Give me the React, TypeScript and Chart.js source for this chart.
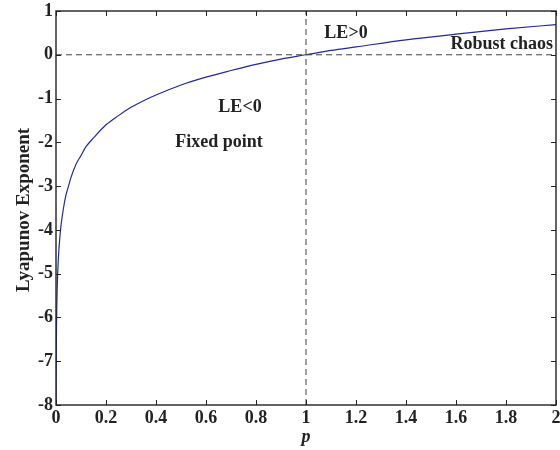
import React, { useEffect, useRef } from "react";
import { Chart, registerables } from "chart.js";

Chart.register(...registerables);

// Lyapunov exponent curve, sampled values of p and LE
const pValues = [0, 0.001, 0.002, 0.005, 0.01, 0.015, 0.02, 0.03, 0.04, 0.05, 0.06, 0.08, 0.1, 0.12, 0.15, 0.2, 0.25, 0.3, 0.35, 0.4, 0.5, 0.6, 0.7, 0.8, 0.9, 1.0, 1.1, 1.2, 1.4, 1.6, 1.8, 2.0];
const leValues = [-8, -6.9, -6.2, -5.3, -4.6, -4.2, -3.9, -3.5, -3.2, -3.0, -2.8, -2.5, -2.3, -2.1, -1.9, -1.6, -1.39, -1.2, -1.05, -0.92, -0.69, -0.51, -0.36, -0.22, -0.1, 0, 0.1, 0.18, 0.34, 0.47, 0.59, 0.69];

const xTicks = [0, 0.2, 0.4, 0.6, 0.8, 1, 1.2, 1.4, 1.6, 1.8, 2];
const yTicks = [1, 0, -1, -2, -3, -4, -5, -6, -7, -8];

const xTitle = "p";
const yTitle = "Lyapunov Exponent";

const FONT = '"Liberation Serif", "Times New Roman", serif';

const decorPlugin = {
  id: "decor",
  afterDatasetsDraw(chart: any) {
    const { ctx, chartArea: a, scales } = chart;
    const xs = scales.x;
    const ys = scales.y;
    ctx.save();
    // frame
    ctx.strokeStyle = "#222";
    ctx.lineWidth = 1.4;
    ctx.strokeRect(a.left, a.top, a.right - a.left, a.bottom - a.top);
    // inward ticks
    ctx.lineWidth = 1;
    const tl = 5;
    xTicks.forEach((v) => {
      const px = Math.round(xs.getPixelForValue(v)) + 0.5;
      ctx.beginPath();
      ctx.moveTo(px, a.bottom);
      ctx.lineTo(px, a.bottom - tl);
      ctx.moveTo(px, a.top);
      ctx.lineTo(px, a.top + tl);
      ctx.stroke();
    });
    yTicks.forEach((v) => {
      const py = Math.round(ys.getPixelForValue(v)) + 0.5;
      ctx.beginPath();
      ctx.moveTo(a.left, py);
      ctx.lineTo(a.left + tl, py);
      ctx.moveTo(a.right, py);
      ctx.lineTo(a.right - tl, py);
      ctx.stroke();
    });
    // tick labels
    ctx.fillStyle = "#222";
    ctx.font = `bold 18px ${FONT}`;
    ctx.textAlign = "center";
    ctx.textBaseline = "top";
    xTicks.forEach((v) => {
      ctx.fillText(String(v), xs.getPixelForValue(v), a.bottom + 4);
    });
    ctx.textAlign = "right";
    ctx.textBaseline = "middle";
    yTicks.forEach((v) => {
      ctx.fillText(String(v), a.left - 3, ys.getPixelForValue(v));
    });
    // axis titles
    ctx.textAlign = "center";
    ctx.textBaseline = "middle";
    ctx.font = `italic bold 18px ${FONT}`;
    ctx.fillText(xTitle, xs.getPixelForValue(1), a.bottom + 32);
    ctx.save();
    ctx.translate(24, (a.top + a.bottom) / 2 + 2);
    ctx.rotate(-Math.PI / 2);
    ctx.font = `bold 19px ${FONT}`;
    ctx.fillText(yTitle, 0, 0);
    ctx.restore();
    // region annotations
    ctx.font = `bold 18px ${FONT}`;
    ctx.textAlign = "center";
    ctx.fillText("LE>0", xs.getPixelForValue(1.16), ys.getPixelForValue(0.5));
    ctx.fillText("LE<0", xs.getPixelForValue(0.736), ys.getPixelForValue(-1.21));
    ctx.fillText("Fixed point", xs.getPixelForValue(0.652), ys.getPixelForValue(-1.99));
    ctx.textAlign = "right";
    ctx.fillText("Robust chaos", a.right - 3, ys.getPixelForValue(0.23));
    ctx.restore();
  },
};

export default function App() {
  const ref = useRef<HTMLCanvasElement>(null);
  useEffect(() => {
    const curve = pValues.map((p, i) => ({ x: p, y: leValues[i] }));
    const chart = new Chart(ref.current!, {
      type: "line",
      data: {
        datasets: [
          {
            data: [{ x: 0, y: 0 }, { x: 2, y: 0 }],
            borderColor: "#444",
            borderWidth: 1,
            borderDash: [6, 4],
            pointRadius: 0,
          },
          {
            data: [{ x: 1, y: -8 }, { x: 1, y: 1 }],
            borderColor: "#444",
            borderWidth: 1,
            borderDash: [6, 4],
            pointRadius: 0,
          },
          {
            data: curve,
            borderColor: "#1f2a9c",
            borderWidth: 1.2,
            pointRadius: 0,
            cubicInterpolationMode: "monotone",
          },
        ],
      },
      options: {
        animation: false,
        responsive: false,
        layout: { padding: { left: 56, right: 4, top: 11, bottom: 45 } },
        plugins: { legend: { display: false }, tooltip: { enabled: false } },
        scales: {
          x: { type: "linear", min: 0, max: 2, display: false },
          y: { type: "linear", min: -8, max: 1, display: false },
        },
      },
      plugins: [decorPlugin],
    } as any);
    return () => chart.destroy();
  }, []);
  return (
    <div style={{ position: "fixed", left: 0, top: 0, width: 560, height: 450, background: "#fff", overflow: "hidden" }}>
      <canvas ref={ref} width={560} height={450} />
    </div>
  );
}
